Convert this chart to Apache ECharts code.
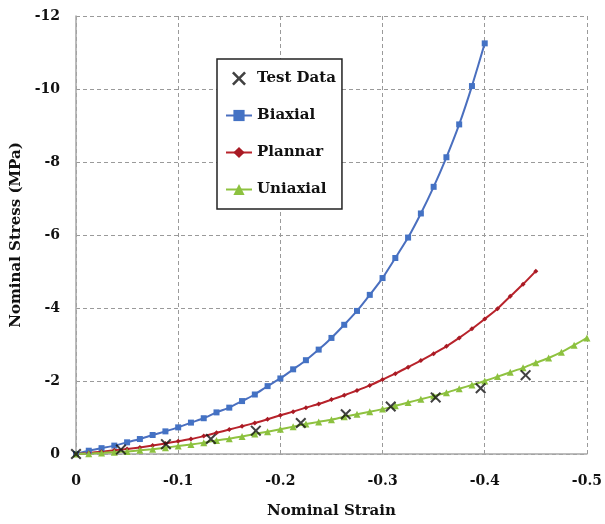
<!DOCTYPE html>
<html>
<head>
<meta charset="utf-8">
<script src="https://cdn.jsdelivr.net/npm/echarts@6/dist/echarts.min.js"></script>
<style>
  html, body { margin: 0; padding: 0; background: #fff; }
  #chart { width: 605px; height: 524px; }
</style>
</head>
<body>
<div id="chart"></div>
<script>
// strain steps used by the three model curves
var strain = [0, -0.0125, -0.025, -0.0375, -0.05, -0.0625, -0.075, -0.0875, -0.1, -0.1125,
  -0.125, -0.1375, -0.15, -0.1625, -0.175, -0.1875, -0.2, -0.2125, -0.225, -0.2375,
  -0.25, -0.2625, -0.275, -0.2875, -0.3, -0.3125, -0.325, -0.3375, -0.35, -0.3625,
  -0.375, -0.3875, -0.4, -0.4125, -0.425, -0.4375, -0.45, -0.4625, -0.475, -0.4875, -0.5];

var biaxial = [0, -0.09, -0.16, -0.23, -0.32, -0.41, -0.52, -0.62, -0.73, -0.86,
  -0.98, -1.14, -1.27, -1.45, -1.63, -1.86, -2.07, -2.32, -2.57, -2.86,
  -3.18, -3.54, -3.92, -4.36, -4.82, -5.37, -5.93, -6.59, -7.32, -8.13,
  -9.03, -10.08, -11.25];

var plannar = [0, -0.03, -0.065, -0.1, -0.14, -0.18, -0.23, -0.29, -0.35, -0.41,
  -0.49, -0.58, -0.67, -0.76, -0.85, -0.95, -1.06, -1.16, -1.27, -1.37,
  -1.49, -1.61, -1.74, -1.88, -2.04, -2.2, -2.38, -2.56, -2.75, -2.95,
  -3.18, -3.43, -3.7, -3.98, -4.32, -4.65, -5.01];

var uniaxial = [0, -0.01, -0.03, -0.05, -0.07, -0.1, -0.13, -0.17, -0.22, -0.26,
  -0.31, -0.37, -0.42, -0.48, -0.55, -0.61, -0.68, -0.75, -0.82, -0.88,
  -0.94, -1.02, -1.09, -1.155, -1.23, -1.32, -1.41, -1.5, -1.59, -1.68,
  -1.79, -1.89, -2.0, -2.12, -2.24, -2.36, -2.5, -2.63, -2.79, -2.98, -3.18];

var testStrain = [0, -0.044, -0.088, -0.132, -0.176, -0.22, -0.264, -0.308, -0.352, -0.396, -0.44];
var testStress = [0, -0.12, -0.27, -0.41, -0.64, -0.85, -1.09, -1.30, -1.55, -1.80, -2.16];

function pairs(xs, ys) {
  return ys.map(function (y, i) { return [xs[i], y]; });
}

var serifBold = { fontFamily: "DejaVu Serif", fontWeight: "bold", color: "#111" };
// thin "x" marker
var crossPath = "path://M1.3,0L5,3.7L8.7,0L10,1.3L6.3,5L10,8.7L8.7,10L5,6.3L1.3,10L0,8.7L3.7,5L0,1.3Z";

var myChart = echarts.init(document.getElementById("chart"));
var option = {
  animation: false,
  backgroundColor: "#fff",
  grid: { left: 76, right: 18, top: 16, bottom: 67 },
  legend: {
    orient: "vertical",
    left: 217,
    top: 59,
    padding: [12, 6, 12, 8],
    itemGap: 22,
    itemWidth: 26,
    itemHeight: 14,
    backgroundColor: "#fff",
    borderColor: "#222",
    borderWidth: 1.5,
    borderRadius: 0,
    textStyle: Object.assign({ fontSize: 15 }, serifBold),
    data: ["Test Data", "Biaxial", "Plannar", "Uniaxial"]
  },
  xAxis: {
    type: "value",
    min: -0.5,
    max: 0,
    interval: 0.1,
    inverse: true,
    name: "Nominal Strain",
    nameLocation: "middle",
    nameGap: 50,
    nameTextStyle: Object.assign({ fontSize: 15 }, serifBold),
    axisLine: { onZero: false, lineStyle: { color: "#a6a6a6", width: 1.5 } },
    axisTick: { show: false },
    axisLabel: Object.assign({ fontSize: 14, margin: 20 }, serifBold),
    splitLine: { lineStyle: { color: "#9a9a9a", type: [4, 3], width: 1 } }
  },
  yAxis: {
    type: "value",
    min: -12,
    max: 0,
    interval: 2,
    inverse: true,
    name: "Nominal Stress (MPa)",
    nameLocation: "middle",
    nameGap: 48,
    nameTextStyle: Object.assign({ fontSize: 15 }, serifBold),
    axisLine: { show: true, onZero: false, lineStyle: { color: "#a6a6a6", width: 1.5 } },
    axisTick: { show: false },
    axisLabel: Object.assign({ fontSize: 14, margin: 16 }, serifBold),
    splitLine: { lineStyle: { color: "#9a9a9a", type: [4, 3], width: 1 } }
  },
  series: [
    {
      name: "Biaxial",
      type: "line",
      data: pairs(strain, biaxial),
      symbol: "rect",
      symbolSize: 6,
      smooth: 0.2,
      lineStyle: { color: "#4a6fbf", width: 2 },
      itemStyle: { color: "#4472c4" },
      z: 3
    },
    {
      name: "Plannar",
      type: "line",
      data: pairs(strain, plannar),
      symbol: "diamond",
      symbolSize: 5,
      smooth: 0.2,
      lineStyle: { color: "#b8232b", width: 2 },
      itemStyle: { color: "#a81a24" },
      z: 3
    },
    {
      name: "Uniaxial",
      type: "line",
      data: pairs(strain, uniaxial),
      symbol: "triangle",
      symbolSize: 7,
      smooth: 0.2,
      lineStyle: { color: "#8fc240", width: 2 },
      itemStyle: { color: "#8cc13f" },
      z: 3
    },
    {
      name: "Test Data",
      type: "scatter",
      data: pairs(testStrain, testStress),
      symbol: crossPath,
      symbolSize: 11,
      itemStyle: { color: "#111" },
      z: 4
    }
  ]
};
myChart.setOption(option);
</script>
</body>
</html>
